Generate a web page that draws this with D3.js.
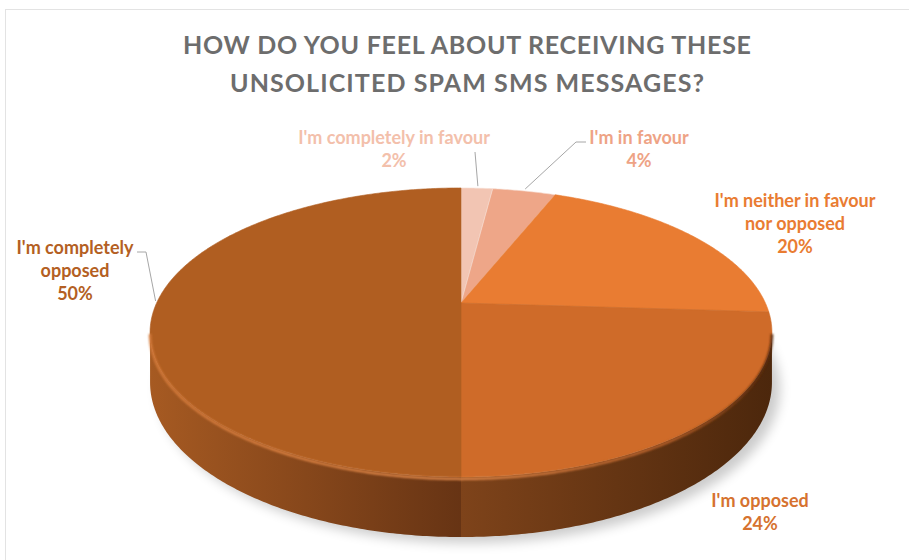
<!DOCTYPE html>
<html>
<head>
<meta charset="utf-8">
<script src="https://cdn.jsdelivr.net/npm/d3@7"></script>
<style>
    body { margin: 0; background: #fff; }
    svg { display: block; }
    text { font-family: Lato, "Open Sans", sans-serif; font-weight: bold; }
</style>
</head>
<body>
<div id="chart"></div>
<script>
// data
const categories = ["I'm completely in favour", "I'm in favour", "I'm neither in favour nor opposed", "I'm opposed", "I'm completely opposed"];
const shares = [2, 4, 20, 24, 50];
const labelLines = [["I'm completely in favour"], ["I'm in favour"], ["I'm neither in favour", "nor opposed"], ["I'm opposed"], ["I'm completely", "opposed"]];
const titleLines = ["HOW DO YOU FEEL ABOUT RECEIVING THESE", "UNSOLICITED SPAM SMS MESSAGES?"];

// styling / layout
const titleWidths = [568, 474];
const topColors = ["#f2c5b3", "#eea688", "#e97c32", "#cf6b29", "#b05e21"];
const textColors = ["#f3c0ab", "#eea385", "#e97c32", "#d6722f", "#b45f23"];
// [left colour, right colour] of each visible side wall
const sideStops = [null, null, null, ["#7e431a", "#4c270c"], ["#a65a22", "#673414"]];
const labelPos = [[394, 144], [639, 144], [795, 207], [760, 507], [75, 254]];
const leaderStart = [[[475, 152]], [[586, 142], [576, 142]], null, null, [[137, 252], [146, 252]]];

function createPie3D(container) {
    let width = 909, height = 560;

    let svg = d3.select(container)
        .append('svg')
        .attr('width', width)
        .attr('height', height);

    let defs = svg.append('defs');

    // chart frame
    svg.append('rect')
        .attr('x', 5.5).attr('y', 9.5)
        .attr('width', 940).attr('height', 600)
        .attr('fill', 'none')
        .attr('stroke', '#e3e3e3');

    svg.append('g').selectAll('text')
        .data(titleLines)
        .enter().append('text')
        .attr('x', 467)
        .attr('y', (d, i) => 54 + i * 38)
        .attr('text-anchor', 'middle')
        .attr('fill', '#6d6d6d')
        .attr('textLength', (d, i) => titleWidths[i])
        .attr('lengthAdjust', 'spacing')
        .style('font-size', '25px')
        .text(d => d);

    // perspective projection of the disc
    const cx = 461, cy = 303, A = 304.4, B = 138.5, k = 0.204, depth = 47.8;
    function proj(theta, down) {
        let s = Math.sin(theta), c = Math.cos(theta), w = 1 + k * c;
        return [cx + A * s / w, cy - B * c / w + (down || 0) / w];
    }
    function arcPts(a0, a1, down) {
        let n = Math.max(2, Math.ceil(Math.abs(a1 - a0) / 0.01));
        return d3.range(n + 1).map(i => proj(a0 + (a1 - a0) * i / n, down));
    }

    let pie = d3.pie().sort(null).value(d => d);
    let arcs = pie(shares);
    let line = d3.line();

    let thetaR = Math.acos(-k), thetaL = 2 * Math.PI - thetaR;

    // soft shadow under the pie
    let blur = defs.append('filter').attr('id', 'shadow')
        .attr('x', '-20%').attr('y', '-20%').attr('width', '140%').attr('height', '140%');
    blur.append('feGaussianBlur').attr('stdDeviation', 6);
    svg.append('path')
        .attr('d', line(arcPts(0, 2 * Math.PI, depth)) + 'Z')
        .attr('transform', 'translate(8,6)')
        .attr('fill', '#000')
        .attr('opacity', 0.2)
        .attr('filter', 'url(#shadow)');

    // side walls
    arcs.forEach((d, i) => {
        let a0 = Math.max(d.startAngle, thetaR), a1 = Math.min(d.endAngle, thetaL);
        if (a0 >= a1 || !sideStops[i]) return;
        let xs = [proj(a0)[0], proj(a1)[0]];
        let g = defs.append('linearGradient')
            .attr('id', 'side' + i)
            .attr('gradientUnits', 'userSpaceOnUse')
            .attr('x1', d3.min(xs)).attr('x2', d3.max(xs))
            .attr('y1', 0).attr('y2', 0);
        g.append('stop').attr('offset', 0).attr('stop-color', sideStops[i][0]);
        g.append('stop').attr('offset', 1).attr('stop-color', sideStops[i][1]);
        let pts = arcPts(a0, a1, 0).concat(arcPts(a1, a0, depth));
        svg.append('path')
            .attr('d', line(pts) + 'Z')
            .attr('fill', 'url(#side' + i + ')');
    });

    // top faces
    svg.append('g').selectAll('path')
        .data(arcs)
        .enter().append('path')
        .attr('d', d => line([[cx, cy]].concat(arcPts(d.startAngle, d.endAngle, 0))) + 'Z')
        .attr('fill', (d, i) => topColors[i])
        .attr('stroke', (d, i) => i < 2 ? '#f6dbd0' : topColors[i])
        .attr('stroke-width', 0.6);

    // bevel rim along the front edge
    let rimGrad = defs.append('linearGradient')
        .attr('id', 'rim').attr('gradientUnits', 'userSpaceOnUse')
        .attr('x1', cx - A).attr('x2', cx + A).attr('y1', 0).attr('y2', 0);
    rimGrad.append('stop').attr('offset', 0).attr('stop-color', '#d47a3a');
    rimGrad.append('stop').attr('offset', 0.5).attr('stop-color', '#e0884a');
    rimGrad.append('stop').attr('offset', 0.85).attr('stop-color', '#b8602a');
    rimGrad.append('stop').attr('offset', 1).attr('stop-color', '#5a2c0e');
    let soft = defs.append('filter').attr('id', 'soft');
    soft.append('feGaussianBlur').attr('stdDeviation', 0.8);
    svg.append('path')
        .attr('d', line(arcPts(thetaL, thetaR, 1.5)))
        .attr('fill', 'none')
        .attr('stroke', 'url(#rim)')
        .attr('stroke-width', 2.5)
        .attr('filter', 'url(#soft)');

    // leader lines
    arcs.forEach((d, i) => {
        if (!leaderStart[i]) return;
        let mid = (d.startAngle + d.endAngle) / 2;
        let end = proj(mid, 0);
        let dir = mid > Math.PI ? -1 : 1;
        let pts = leaderStart[i].concat([[end[0] + dir * 1, end[1] - 2]]);
        svg.append('path')
            .attr('d', line(pts))
            .attr('fill', 'none')
            .attr('stroke', '#a6a6a6')
            .attr('stroke-width', 1);
    });

    // data labels
    let labels = svg.append('g').selectAll('text')
        .data(arcs)
        .enter().append('text')
        .attr('text-anchor', 'middle')
        .attr('fill', (d, i) => textColors[i])
        .style('font-size', '18px');

    labels.each(function (d, i) {
        let t = d3.select(this);
        let lines = labelLines[i].concat([d3.format('.0%')(d.data / 100)]);
        lines.forEach((l, j) => {
            t.append('tspan')
                .attr('x', labelPos[i][0])
                .attr('y', labelPos[i][1] + j * 23)
                .text(l);
        });
    });
}

createPie3D('#chart');
</script>
</body>
</html>
